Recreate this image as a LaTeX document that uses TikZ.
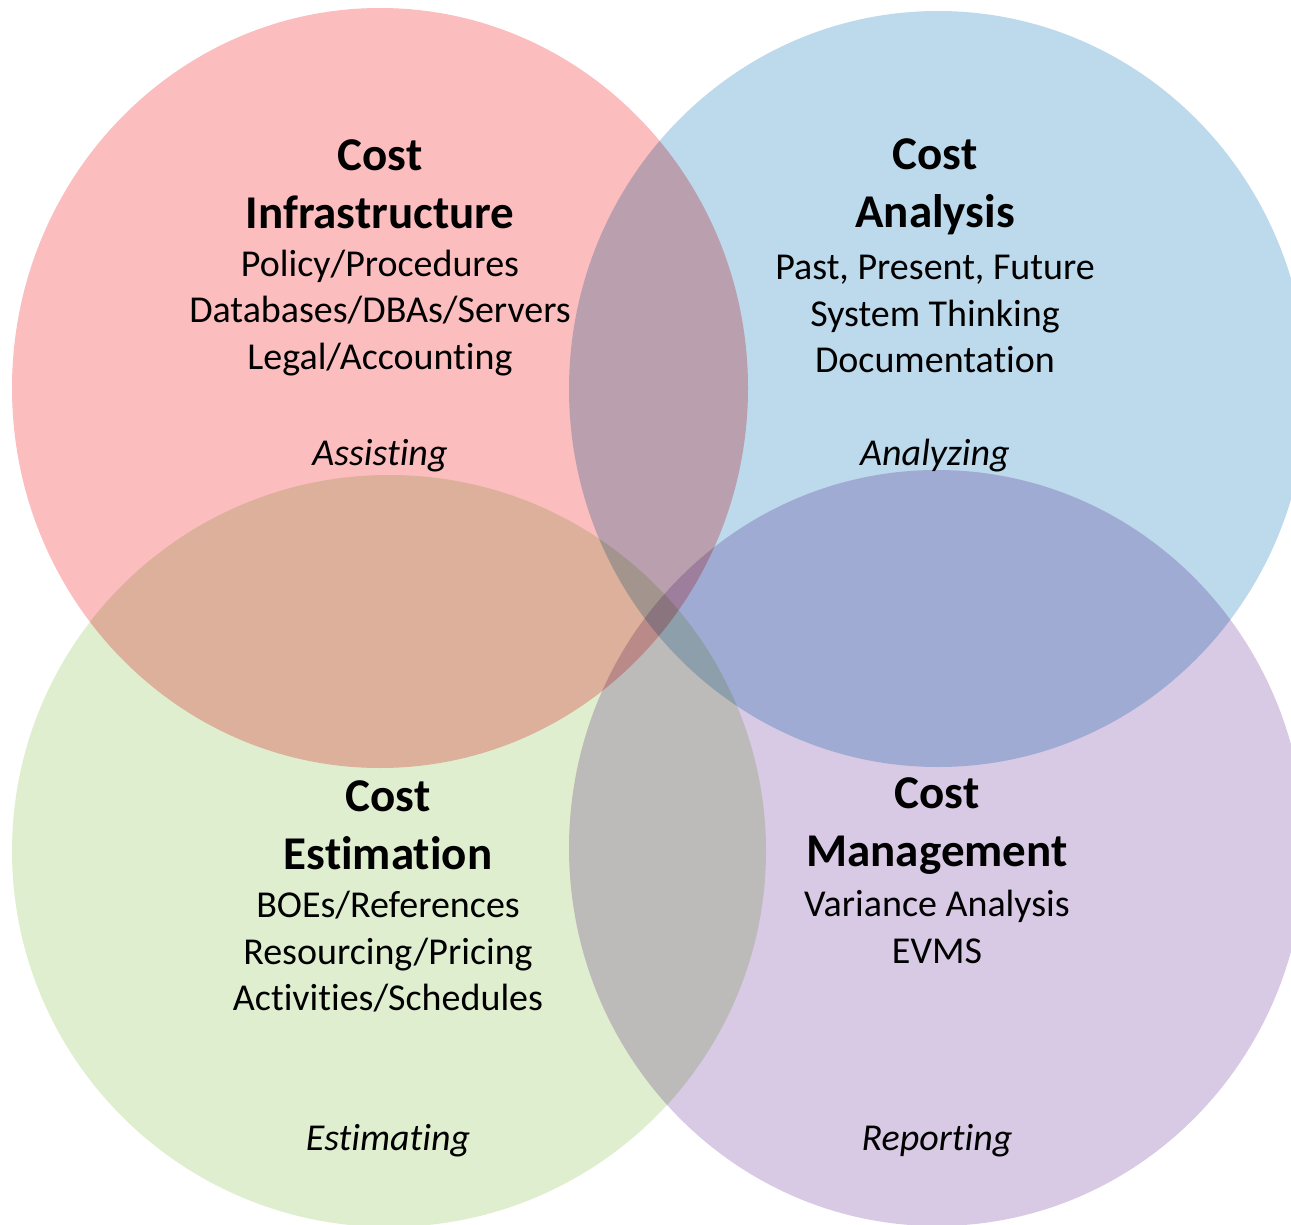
\documentclass[tikz,border=0pt]{standalone}
\usepackage{fontspec}
\setmainfont{Carlito}[Ligatures={NoCommon,NoContextual,NoRequired}, Contextuals={NoAlternate}, RawFeature={-liga;-clig;-calt;-rlig}]
\usepackage{xcolor}
\definecolor{vennRed}{RGB}{251, 189, 190}
\definecolor{vennBlue}{RGB}{189, 217, 236}
\definecolor{vennGreen}{RGB}{224, 238, 208}
\definecolor{vennPurple}{RGB}{216, 201, 228}

\begin{document}
\begin{tikzpicture}[x=1pt, y=-1pt,
    title/.style={align=center, font=\fontsize{47}{58}\selectfont\bfseries},
    items/.style={align=center, font=\fontsize{38}{46.5}\selectfont},
    role/.style={font=\fontsize{38}{46.5}\selectfont\itshape}]
    \useasboundingbox (0,0) rectangle (1291,1225);
    \clip (0,0) rectangle (1291,1225);
    \begin{scope}[blend group=multiply]
        \fill[vennRed] (380,388) ellipse [x radius=368, y radius=380];
        \fill[vennBlue] (938,389) ellipse [x radius=369, y radius=378];
        \fill[vennGreen] (389,851) ellipse [x radius=377, y radius=376];
        \fill[vennPurple] (937,848) ellipse [x radius=368, y radius=378];
    \end{scope}
    \node[title] (infraTitle) at (380,184) {Cost\\Infrastructure};
    \node[items] (infraItems) at (380,313) {Policy/Procedures\\Databases/DBAs/Servers\\Legal/Accounting};
    \node[role] (infraRole) at (380,456) {Assisting};
    \node[title] (analysisTitle) at (935,187) {Cost\\Analysis};
    \node[items] (analysisItems) at (935,314) {Past, Present, Future\\System Thinking\\Documentation};
    \node[role] (analysisRole) at (935,456) {Analyzing};
    \node[title] (estimTitle) at (388,825) {Cost\\Estimation};
    \node[items] (estimItems) at (388,952) {BOEs/References\\Resourcing/Pricing\\Activities/Schedules};
    \node[role] (estimRole) at (388,1141) {Estimating};
    \node[title] (mgmtTitle) at (937,826) {Cost\\Management};
    \node[items] (mgmtItems) at (937,927) {Variance Analysis\\EVMS};
    \node[role] (mgmtRole) at (937,1141) {Reporting};
\end{tikzpicture}
\end{document}
